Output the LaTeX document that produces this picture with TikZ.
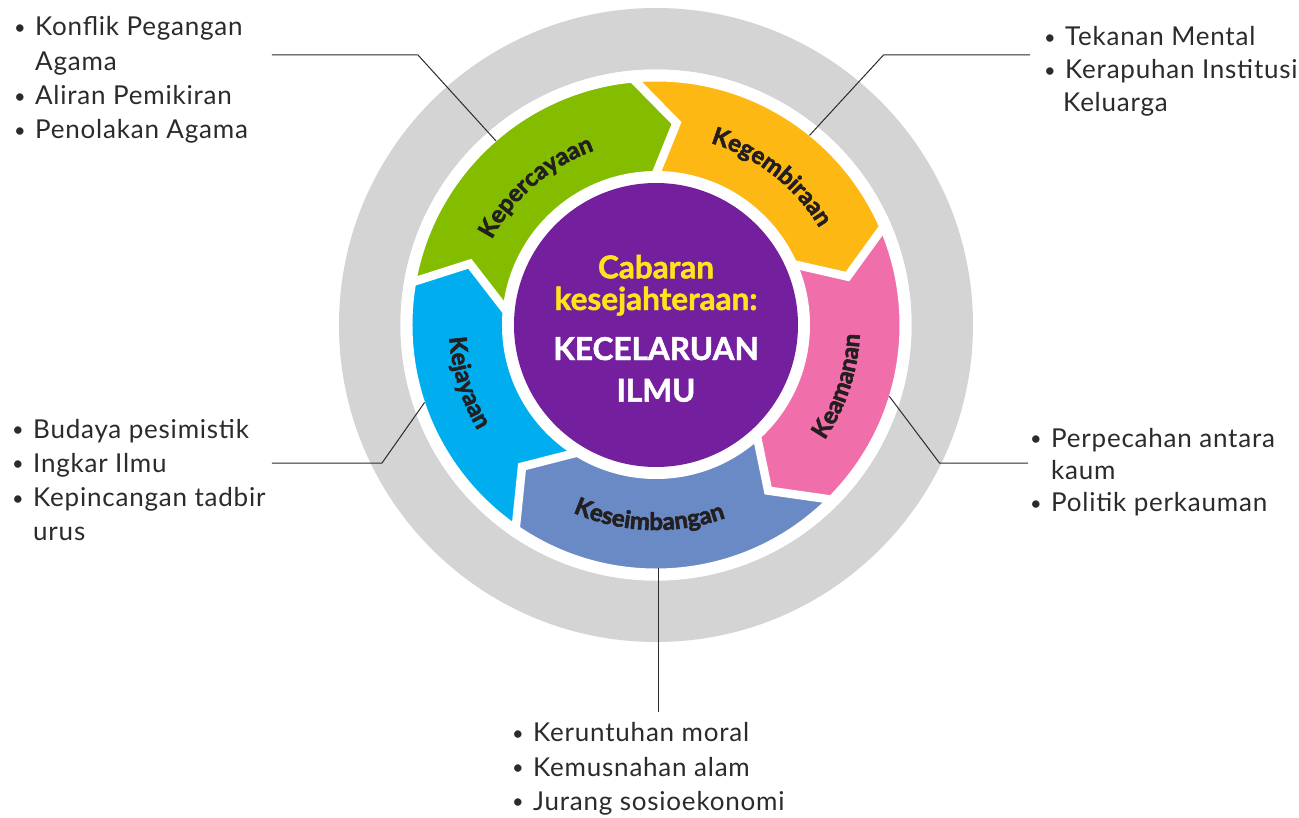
\documentclass[tikz,border=0pt]{standalone}
\usepackage{fontspec}
\setmainfont{Lato}
\newfontfamily\bodyf{Lato}[LetterSpace=3]
\newfontfamily\labf{Lato}[BoldFeatures={FakeBold=2.5}]
\newfontfamily\cenf{Lato}[BoldFeatures={FakeBold=1.5}]
\usetikzlibrary{calc,decorations.text}
\definecolor{ringgray}{HTML}{D4D4D4}
\definecolor{cgreen}{HTML}{84BC00}
\definecolor{corange}{HTML}{FDB813}
\definecolor{cpink}{HTML}{F06EA9}
\definecolor{cblue}{HTML}{6A8AC5}
\definecolor{ccyan}{HTML}{00AEEF}
\definecolor{cpurple}{HTML}{731F9E}
\definecolor{cyellow}{HTML}{FFE31B}
\definecolor{txt}{HTML}{2B2B2B}
\definecolor{labc}{HTML}{231F20}
\newcommand\bodyfont{\bodyf\fontsize{26}{30}\selectfont}
\newcommand\labfont{\labf\bfseries\fontsize{24}{24}\selectfont}
\newcommand\cenfont{\cenf\bfseries\fontsize{31.5}{31.5}\selectfont}
\newcommand\bul{\makebox[21pt][l]{\raisebox{1.5pt}{\fontsize{20}{20}\selectfont\textbullet}}}
\newcommand\bnd[5]{%
  \coordinate (#1-o) at (#2:244);
  \coordinate (#1-m) at (#3:#4);
  \coordinate (#1-i) at (#5:153);
  \coordinate (#1-oe) at ($(#1-m)!1.2!(#1-o)$);
  \coordinate (#1-ie) at ($(#1-m)!1.2!(#1-i)$);}
\newcommand\seg[7]{%
  \fill[#1] (#4:252) arc[start angle=#4, end angle=#5, radius=252] -- (#3-oe) -- (#3-m) -- (#3-ie) --
    (#7:146) arc[start angle=#7, end angle=#6, radius=146] -- (#2-ie) -- (#2-m) -- (#2-oe) -- cycle;}
\begin{document}
\begin{tikzpicture}[x=1pt,y=1pt,
  bl/.style={anchor=base west, inner sep=0pt, font=\bodyfont, text=txt},
  leader/.style={draw=txt, line width=1pt},
  gapline/.style={draw=white, line width=8.5pt, line join=miter, miter limit=10},
  ctext/.style={anchor=base, inner sep=0pt, font=\cenfont},
  lab/.style={decorate, decoration={text along path, text align=center, text={|\labfont\color{labc}|#1}}}]
\useasboundingbox (-656,-492) rectangle (643,325);
\fill[white] (-656,-492) rectangle (643,325);
% rings
\fill[ringgray] (0,0) circle[radius=317];
\fill[white] (0,0) circle[radius=255.5];
% boundaries
\bnd{A}{94.7}{84.2}{203}{89.75}
\bnd{B}{22.8}{14.2}{197.5}{23.1}
\bnd{C}{-45.5}{-55.9}{200}{-48.4}
\bnd{D}{-125}{-133.4}{195}{-122.8}
\bnd{E}{169.6}{161.8}{196}{173.6}
% segments
\seg{cgreen}{E}{A}{169.6}{94.7}{173.6}{89.75}
\seg{corange}{A}{B}{94.7}{22.8}{89.75}{23.1}
\seg{cpink}{B}{C}{22.8}{-45.5}{23.1}{-48.4}
\seg{cblue}{C}{D}{-45.5}{-125}{-48.4}{-122.8}
\seg{ccyan}{D}{E}{235}{169.6}{237.2}{173.6}
% gaps
\foreach \b in {A,B,C,D,E} {\draw[gapline] (\b-oe) -- (\b-m) -- (\b-ie);}
\draw[white, line width=12pt] (0,0) circle[radius=249.5];
\fill[white] (0,0) circle[radius=154];
\fill[cpurple] (0,0) circle[radius=142];
% segment labels
\path[lab=Kepercayaan] (175:185) arc[start angle=175, end angle=87, radius=185];
\path[lab=Kegembiraan] (96:190) arc[start angle=96, end angle=8, radius=190];
\path[lab=Keamanan] (-63:204) arc[start angle=-63, end angle=26, radius=204];
\path[lab=Keseimbangan] (223:205) arc[start angle=223, end angle=313, radius=205];
\path[lab=Kejayaan] (155:207) arc[start angle=155, end angle=239, radius=207];
% centre text
\node[ctext, text=cyellow] (c1) at (0,46.7) {Cabaran};
\node[ctext, text=cyellow] (c2) at (0,15) {kesejahteraan:};
\node[ctext, text=white] (c3) at (0,-35) {KECELARUAN};
\node[ctext, text=white] (c4) at (0,-76.7) {ILMU};
% text blocks
\node[bl] (tl1) at (-642,289) {\bul Konflik Pegangan};
\node[bl] (tl2) at (-621,254.5) {Agama};
\node[bl] (tl3) at (-642,220) {\bul Aliran Pemikiran};
\node[bl] (tl4) at (-642,186) {\bul Penolakan Agama};
\node[bl] (tr1) at (388,279) {\bul Tekanan Mental};
\node[bl] (tr2) at (388,246) {\bul Kerapuhan Institusi};
\node[bl] (tr3) at (407,213) {Keluarga};
\node[bl] (ml1) at (-644,-113) {\bul Budaya pesimistik};
\node[bl] (ml2) at (-644,-147) {\bul Ingkar Ilmu};
\node[bl] (ml3) at (-644,-181.7) {\bul Kepincangan tadbir};
\node[bl] (ml4) at (-623,-215) {urus};
\node[bl] (mr1) at (374,-122.3) {\bul Perpecahan antara};
\node[bl] (mr2) at (395,-154.5) {kaum};
\node[bl] (mr3) at (374,-186.7) {\bul Politik perkauman};
\node[bl] (b1) at (-144,-416.7) {\bul Keruntuhan moral};
\node[bl] (b2) at (-144,-451) {\bul Kemusnahan alam};
\node[bl] (b3) at (-144,-485) {\bul Jurang sosioekonomi};
% leader lines
\coordinate (l1a) at (-384,270); \coordinate (l1b) at (-238,270); \coordinate (kepE) at (131:244);
\coordinate (l2a) at (374,270); \coordinate (l2b) at (227.5,270); \coordinate (kegE) at (51:244);
\coordinate (l3a) at (-384,-138); \coordinate (l3b) at (-274,-138); \coordinate (kejE) at (198.5:244);
\coordinate (l4a) at (372,-138); \coordinate (l4b) at (283.5,-138); \coordinate (keaE) at (-17:244);
\coordinate (l5a) at (2.4,-387); \coordinate (kesE) at (2.4,-243);
\draw[leader] (l1a) -- (l1b) -- (kepE);
\draw[leader] (l2a) -- (l2b) -- (kegE);
\draw[leader] (l3a) -- (l3b) -- (kejE);
\draw[leader] (l4a) -- (l4b) -- (keaE);
\draw[leader] (l5a) -- (kesE);
\end{tikzpicture}
\end{document}
